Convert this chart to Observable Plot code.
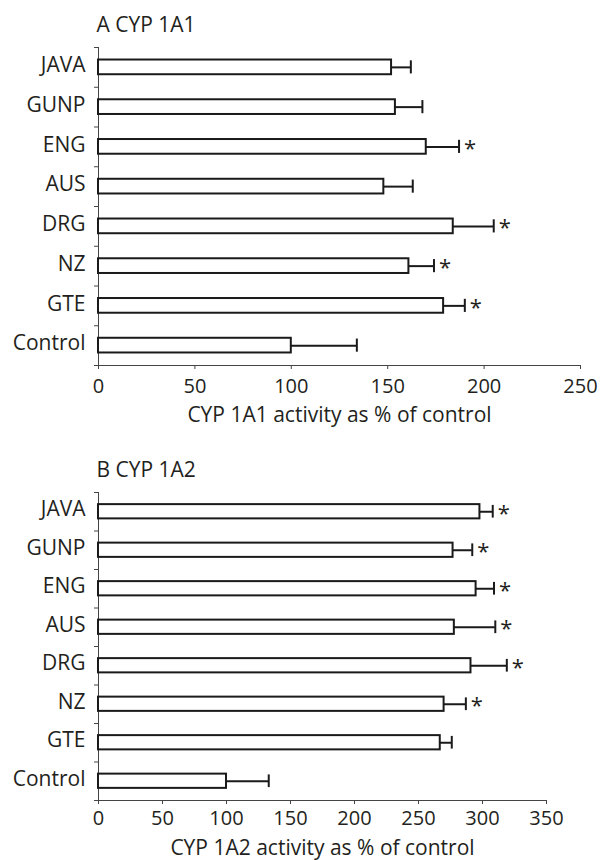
<!DOCTYPE html>
<html><head><meta charset="utf-8">
<script src="https://cdn.jsdelivr.net/npm/d3@7"></script>
<script src="https://cdn.jsdelivr.net/npm/@observablehq/plot@0.6"></script>
<style>
html,body{margin:0;padding:0;background:#fff;}
#chart svg{display:block;}
</style></head><body><div id="chart"></div>
<script>
const categories = ["JAVA","GUNP","ENG","AUS","DRG","NZ","GTE","Control"];
const meanA = [152,154,170,148,184,161,179,100];
const semA  = [10,14,17,15,21,13,11,34];
const sigA  = [false,false,true,false,true,true,true,false];
const meanB = [298,277,295,278,291,270,267,100];
const semB  = [10,15,14,32,28,17,9,33];
const sigB  = [true,true,true,true,true,true,false,false];
const ticksA = [0,50,100,150,200,250];
const ticksB = [0,50,100,150,200,250,300,350];
const titleA = "A CYP 1A1";
const titleB = "B CYP 1A2";
const labelA = "CYP 1A1 activity as % of control";
const labelB = "CYP 1A2 activity as % of control";

function panel({title, label, mean, sem, sig, ticks, marginTop, marginBottom, marginRight, tickPadding, labelDy}) {
  const n = categories.length;
  const rows = categories.map((c, i) => ({c, i, v: mean[i], hi: mean[i] + sem[i], sig: sig[i]}));
  const bounds = d3.range(n + 1).map(k => k - 0.5);
  const ink = "#1a1a1a";
  return Plot.plot({
    width: 600, height: 430, marginLeft: 98, marginRight, marginTop, marginBottom,
    style: {fontFamily: "'Open Sans', sans-serif", fontSize: "20px", color: "#231f20", background: "#fff", overflow: "visible"},
    x: {domain: [ticks[0], ticks[ticks.length - 1]], label: null},
    y: {domain: [n - 0.5, -0.5], label: null},
    marks: [
      Plot.ruleX([0], {stroke: "#444", strokeWidth: 1}),
      Plot.ruleY([n - 0.5], {stroke: "#444", strokeWidth: 1}),
      Plot.axisY(bounds, {tickSize: 4, tickFormat: () => "", stroke: "#444", label: null}),
      Plot.axisY(d3.range(n), {tickSize: 0, tickPadding: 13, tickFormat: i => categories[i], fontSize: 21, dy: -2, label: null}),
      Plot.axisX(ticks, {tickSize: 4, tickPadding, fontSize: 20, stroke: "#444", label: null}),
      Plot.ruleY(rows, {y: "i", x1: "v", x2: "hi", stroke: ink, strokeWidth: 2}),
      Plot.ruleX(rows, {x: "hi", y1: d => d.i - 0.165, y2: d => d.i + 0.165, stroke: ink, strokeWidth: 2}),
      Plot.rect(rows, {x1: () => 0, x2: "v", y1: d => d.i - 0.185, y2: d => d.i + 0.185, fill: "#fff", stroke: ink, strokeWidth: 2}),
      Plot.text(rows.filter(d => d.sig), {x: "hi", y: "i", text: () => "*", dx: 11, dy: 2, fontSize: 22, fill: "#231f20"}),
      Plot.text([title], {text: d => d, frameAnchor: "top-left", textAnchor: "start", lineAnchor: "bottom", dx: -2, dy: -15.3, fontSize: 21, fill: "#231f20"}),
      Plot.text([label], {text: d => d, frameAnchor: "bottom", lineAnchor: "bottom", dy: labelDy, fontSize: 21, fill: "#231f20"})
    ]
  });
}

const chart = document.getElementById("chart");
chart.append(panel({title: titleA, label: labelA, mean: meanA, sem: semA, sig: sigA, ticks: ticksA,
  marginTop: 47, marginBottom: 65, marginRight: 20, tickPadding: 9, labelDy: 56.5}));
chart.append(panel({title: titleB, label: labelB, mean: meanB, sem: semB, sig: sigB, ticks: ticksB,
  marginTop: 62, marginBottom: 60, marginRight: 54, tickPadding: 6, labelDy: 54}));
</script>
</body></html>
